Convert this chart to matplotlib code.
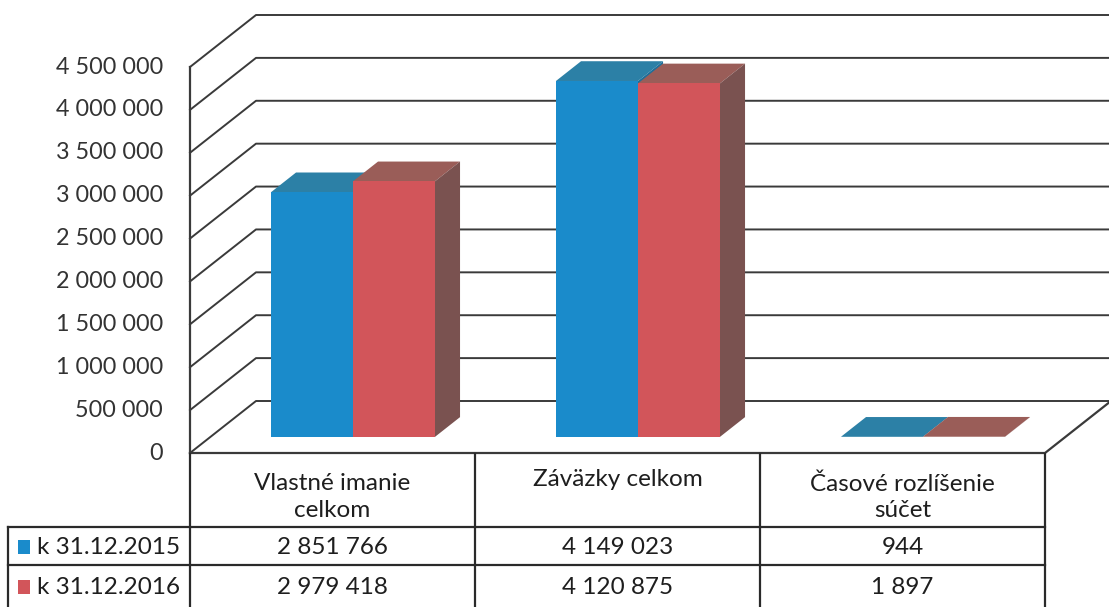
import matplotlib.pyplot as plt
from matplotlib.patches import Polygon, Rectangle

categories = ["Vlastné imanie\ncelkom", "Záväzky celkom", "Časové rozlíšenie\nsúčet"]
series_names = ["k 31.12.2015", "k 31.12.2016"]
values_2015 = [2851766, 4149023, 944]
values_2016 = [2979418, 4120875, 1897]
table_2015 = ["2 851 766", "4 149 023", "944"]
table_2016 = ["2 979 418", "4 120 875", "1 897"]
yticks = [0, 500000, 1000000, 1500000, 2000000, 2500000, 3000000, 3500000, 4000000, 4500000]

front_c = ["#1a8bcb", "#d2555a"]
top_c = ["#2c80a6", "#9a5d58"]
side_c = ["#1f6f99", "#7a5250"]
grid_c = "#3a3a3a"
text_c = "#333333"

W, H = 1109, 607
X0, CAT = 190, 285          # pixel of category 0 and pixels per category
Y0, PPV = 453, 386 / 4.5e6  # pixel of value 0 and pixels per value unit

fig = plt.figure(figsize=(W / 100, H / 100), dpi=100)
ax = fig.add_axes([0, 0, 1, 1])
ax.set_xlim(-X0 / CAT, (W - X0) / CAT)
ax.set_ylim(-(H - Y0) / PPV, Y0 / PPV)
ax.axis("off")

DX, DY = 66 / CAT, 52 / PPV   # full depth offset
D0, DB = 0.31, 0.38           # bar front depth, bar thickness (fraction)
bw = 82 / CAT

# wall gridlines
xr = (W - X0) / CAT
for v in yticks:
    ax.plot([0, DX, xr], [v, v + DY, v + DY], color=grid_c, lw=1.4, zorder=1)
    ax.text(-27 / CAT, v, f"{v:,}".replace(",", " "), ha="right", va="center",
            fontsize=16.8, family="Lato", color=text_c)
ax.plot([0, 0], [0, yticks[-1]], color=grid_c, lw=1.6, zorder=1)
ax.plot([0, 3, 3 + DX], [0, 0, DY], color=grid_c, lw=1.6, zorder=1)

# bars
fx, fy = D0 * DX, D0 * DY
bx, by = DB * DX, DB * DY
for i in range(len(categories)):
    for s, vals in enumerate([values_2015, values_2016]):
        x = i + 0.5 - bw + s * bw + fx
        y0 = fy
        v = vals[i]
        top = Polygon([(x, y0 + v), (x + bx, y0 + v + by), (x + bw + bx, y0 + v + by), (x + bw, y0 + v)],
                      closed=True, facecolor=top_c[s], edgecolor="none", zorder=3)
        side = Polygon([(x + bw, y0), (x + bw + bx, y0 + by), (x + bw + bx, y0 + v + by), (x + bw, y0 + v)],
                       closed=True, facecolor=side_c[s], edgecolor="none", zorder=3)
        front = Rectangle((x, y0), bw, v, facecolor=front_c[s], edgecolor="none", zorder=3)
        ax.add_patch(top)
        ax.add_patch(side)
        ax.add_patch(front)

# data table (pixel coordinates)
tx = fig.add_axes([0, 0, 1, 1], facecolor="none")
tx.set_xlim(0, W)
tx.set_ylim(H, 0)
tx.axis("off")
cols = [X0 + k * CAT for k in range(4)]
tc = "#2a2a2a"
for c in cols:
    tx.plot([c, c], [454, H], color=tc, lw=1.6)
for yy in [527, 565]:
    tx.plot([8, cols[-1]], [yy, yy], color=tc, lw=1.6)
tx.plot([8, 8], [527, H], color=tc, lw=1.6)

for k, name in enumerate(categories):
    tx.text(X0 + CAT * (k + 0.5), 497 if "\n" in name else 480, name, ha="center", va="center",
            fontsize=17.5, family="Lato", color="#1e1e1e", linespacing=1.3)
for r, (row, name) in enumerate(zip([table_2015, table_2016], series_names)):
    yc = 547 + r * 40
    tx.add_patch(Rectangle((18, yc - 7), 12, 14, facecolor=front_c[r], edgecolor="none"))
    tx.text(37, yc, name, ha="left", va="center", fontsize=17.5, family="Lato", color="#1e1e1e")
    for k, val in enumerate(row):
        tx.text(X0 + CAT * (k + 0.5), yc, val, ha="center", va="center",
                fontsize=17.5, family="Lato", color="#1e1e1e")

fig.savefig("out.png", dpi=100)
